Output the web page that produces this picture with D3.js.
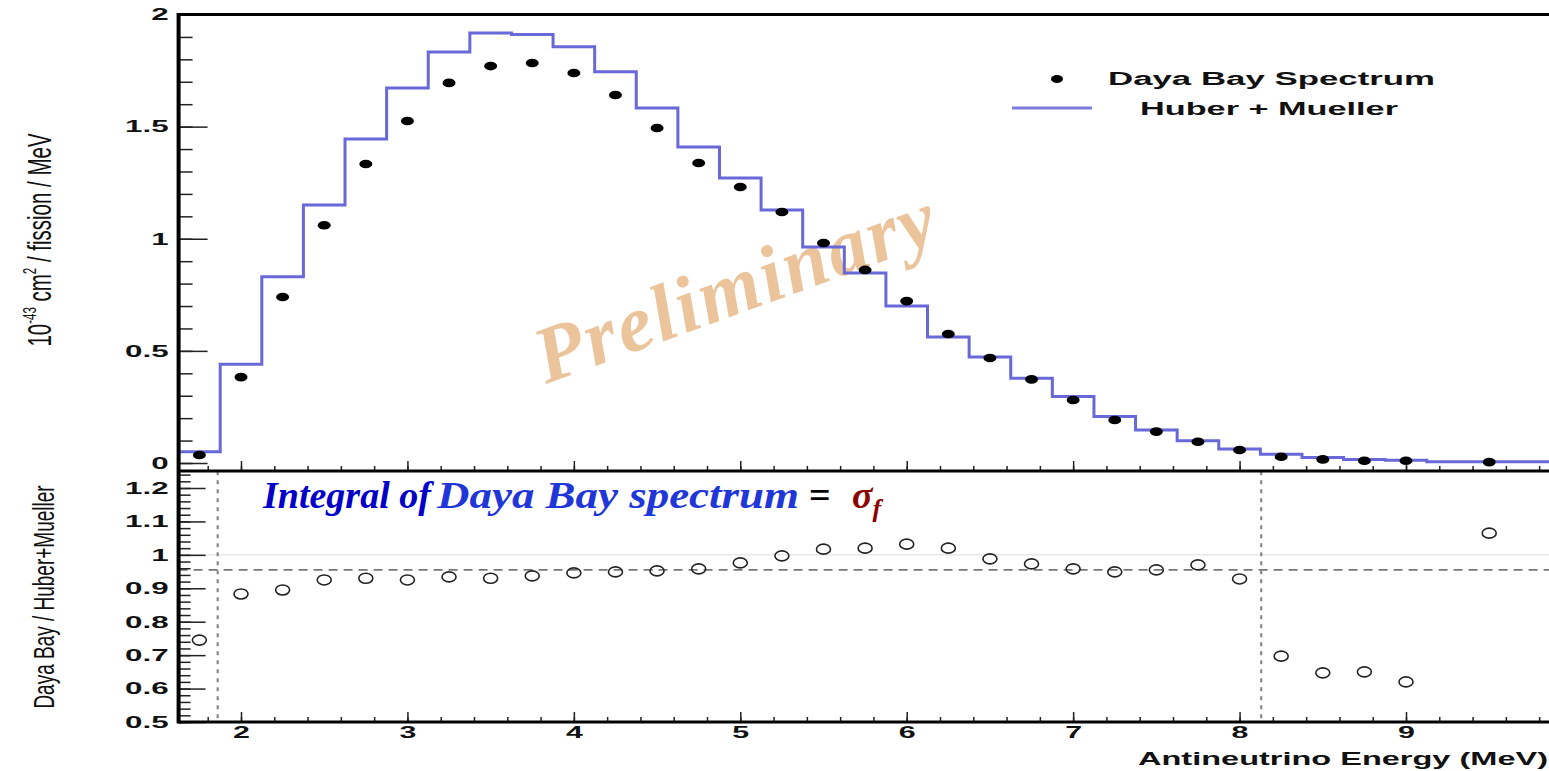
<!DOCTYPE html>
<html>
<head>
<meta charset="utf-8">
<script src="https://cdn.jsdelivr.net/npm/d3@7"></script>
<style>
  body { margin: 0; background: #fff; overflow: hidden; }
  svg { display: block; }
</style>
</head>
<body>
<script>
// bin centres (MeV)
const energies = [1.75, 2, 2.25, 2.5, 2.75, 3, 3.25, 3.5, 3.75, 4, 4.25, 4.5, 4.75, 5, 5.25, 5.5,
                  5.75, 6, 6.25, 6.5, 6.75, 7, 7.25, 7.5, 7.75, 8, 8.25, 8.5, 8.75, 9, 9.5];
// Daya Bay spectrum, 10^-43 cm^2 / fission / MeV
const spectrum = [0.036, 0.383, 0.74, 1.06, 1.333, 1.525, 1.695, 1.77, 1.784, 1.739, 1.641, 1.494, 1.338, 1.231, 1.119, 0.981,
                  0.861, 0.722, 0.575, 0.468, 0.373, 0.281, 0.192, 0.14, 0.095, 0.058, 0.028, 0.016, 0.01, 0.01, 0.004];
// Daya Bay / Huber+Mueller
const ratio = [0.745, 0.883, 0.895, 0.925, 0.93, 0.925, 0.934, 0.93, 0.937, 0.946, 0.949, 0.952, 0.958, 0.976, 0.997, 1.017,
               1.02, 1.032, 1.02, 0.988, 0.973, 0.958, 0.949, 0.955, 0.97, 0.928, 0.697, 0.647, 0.65, 0.62, 1.065];
// Huber + Mueller histogram (bin low edges + last high edge)
const hmEdges = [1.625, 1.875, 2.125, 2.375, 2.625, 2.875, 3.125, 3.375, 3.625, 3.875, 4.125, 4.375, 4.625, 4.875, 5.125, 5.375,
                 5.625, 5.875, 6.125, 6.375, 6.625, 6.875, 7.125, 7.375, 7.625, 7.875, 8.125, 8.375, 8.625, 8.875, 9.125, 10];
const hmValues = [0.05, 0.44, 0.83, 1.15, 1.445, 1.672, 1.833, 1.917, 1.911, 1.856, 1.745, 1.583, 1.409, 1.271, 1.128, 0.963,
                  0.847, 0.7, 0.562, 0.473, 0.378, 0.296, 0.207, 0.147, 0.099, 0.062, 0.039, 0.025, 0.016, 0.012, 0.006];

const spectrumTicks = [0, 0.5, 1, 1.5, 2];
const ratioTicks = [0.5, 0.6, 0.7, 0.8, 0.9, 1, 1.1, 1.2];
const energyTicks = [2, 3, 4, 5, 6, 7, 8, 9];
const ratioRef = 0.955;     // dashed line
const cutLines = [1.86, 8.13]; // dotted verticals

const width = 1549, height = 771;
const svg = d3.select("body").append("svg")
  .attr("width", width)
  .attr("height", height);

const xMin = 1.625;
const x = d3.scaleLinear().domain([2, 9]).range([241, 1406]);
const left = x(xMin);

const yTop = d3.scaleLinear().domain([0, 2]).range([463, 14.5]);
const topBottom = 471;
const yRatio = d3.scaleLinear().domain([0.5, 1.2]).range([722, 488]);
const ratioTop = yRatio(1.25);
const ratioBottom = yRatio(0.5);

const labelFont = "'Liberation Sans', Arial, Helvetica, sans-serif";
const serif = "'Liberation Serif', 'Times New Roman', serif";
const stretch = 1.9;
const fmt = d3.format("~g");

function styleTicks(g) {
  g.select(".domain").remove();
  g.selectAll(".tick line").attr("stroke", "#222").attr("stroke-width", 1.5);
}

// ---------- watermark (behind data) ----------
svg.append("text")
  .attr("transform", "translate(546,384) rotate(-20)")
  .attr("font-family", serif)
  .attr("font-style", "italic")
  .attr("font-weight", "bold")
  .attr("font-size", 80)
  .attr("letter-spacing", 2.5)
  .attr("fill", "#ecc49c")
  .text("Preliminary");

// ---------- top panel ----------
svg.append("g")
  .attr("transform", `translate(${left},0)`)
  .call(d3.axisLeft(yTop).tickValues(d3.range(0, 2.001, 0.1)).tickSizeInner(-14).tickSizeOuter(0).tickFormat(""))
  .call(styleTicks);
const yTopAxis = svg.append("g")
  .attr("transform", `translate(${left},0)`)
  .call(d3.axisLeft(yTop).tickValues(spectrumTicks).tickSizeInner(-29).tickSizeOuter(0).tickPadding(10).tickFormat(fmt))
  .call(styleTicks);

svg.append("g")
  .attr("transform", `translate(0,${topBottom})`)
  .call(d3.axisBottom(x).tickValues(d3.range(1.8, 9.9, 0.2)).tickSizeInner(-5).tickSizeOuter(0).tickFormat(""))
  .call(styleTicks);
svg.append("g")
  .attr("transform", `translate(0,${topBottom})`)
  .call(d3.axisBottom(x).tickValues(energyTicks).tickSizeInner(-10).tickSizeOuter(0).tickFormat(""))
  .call(styleTicks);

// Huber + Mueller histogram
const hmPoints = [[xMin, 0]]
  .concat(hmValues.map((v, i) => [hmEdges[i], v]))
  .concat([[hmEdges[hmEdges.length - 1], hmValues[hmValues.length - 1]]]);

const step = d3.line()
  .x(d => x(d[0]))
  .y(d => yTop(d[1]))
  .curve(d3.curveStepAfter);

svg.append("path")
  .datum(hmPoints)
  .attr("d", step)
  .attr("fill", "none")
  .attr("stroke", "#6868d8")
  .attr("stroke-width", 3);

// Daya Bay points
svg.selectAll(".spec")
  .data(energies)
  .enter()
  .append("ellipse")
  .attr("class", "spec")
  .attr("cx", d => x(d))
  .attr("cy", (d, i) => yTop(spectrum[i]))
  .attr("rx", 6.5)
  .attr("ry", 4.3)
  .attr("fill", "#000");

// legend
svg.append("ellipse").attr("cx", 1057).attr("cy", 79).attr("rx", 6).attr("ry", 4).attr("fill", "#000");
svg.append("text")
  .attr("x", 1108).attr("y", 85)
  .attr("font-family", labelFont).attr("font-weight", "bold").attr("font-size", 18)
  .attr("textLength", 327).attr("lengthAdjust", "spacingAndGlyphs")
  .attr("fill", "#111")
  .text("Daya Bay Spectrum");
svg.append("line")
  .attr("x1", 1012).attr("x2", 1092).attr("y1", 108).attr("y2", 108)
  .attr("stroke", "#7b7bdc").attr("stroke-width", 3);
svg.append("text")
  .attr("x", 1140).attr("y", 115)
  .attr("font-family", labelFont).attr("font-weight", "bold").attr("font-size", 18)
  .attr("textLength", 258).attr("lengthAdjust", "spacingAndGlyphs")
  .attr("fill", "#111")
  .text("Huber + Mueller");

// ---------- ratio panel ----------
svg.append("line")
  .attr("x1", left).attr("x2", width)
  .attr("y1", yRatio(1)).attr("y2", yRatio(1))
  .attr("stroke", "#e8e8e8").attr("stroke-width", 1.5);

svg.append("line")
  .attr("x1", left).attr("x2", width)
  .attr("y1", yRatio(ratioRef)).attr("y2", yRatio(ratioRef))
  .attr("stroke", "#777").attr("stroke-width", 1.6)
  .attr("stroke-dasharray", "9,6");

svg.selectAll(".cut")
  .data(cutLines)
  .enter()
  .append("line")
  .attr("class", "cut")
  .attr("x1", d => x(d)).attr("x2", d => x(d))
  .attr("y1", ratioTop).attr("y2", ratioBottom)
  .attr("stroke", "#888").attr("stroke-width", 2.2)
  .attr("stroke-dasharray", "4,5");

svg.append("g")
  .attr("transform", `translate(${left},0)`)
  .call(d3.axisLeft(yRatio).tickValues(d3.range(0.5, 1.2501, 0.02)).tickSizeInner(-12).tickSizeOuter(0).tickFormat(""))
  .call(styleTicks);
const yRatioAxis = svg.append("g")
  .attr("transform", `translate(${left},0)`)
  .call(d3.axisLeft(yRatio).tickValues(ratioTicks).tickSizeInner(-27).tickSizeOuter(0).tickPadding(10).tickFormat(fmt))
  .call(styleTicks);

svg.append("g")
  .attr("transform", `translate(0,${ratioBottom})`)
  .call(d3.axisBottom(x).tickValues(d3.range(1.8, 9.9, 0.2)).tickSizeInner(-5).tickSizeOuter(0).tickFormat(""))
  .call(styleTicks);
const xAxis = svg.append("g")
  .attr("transform", `translate(0,${ratioBottom})`)
  .call(d3.axisBottom(x).tickValues(energyTicks).tickSizeInner(-10).tickSizeOuter(0).tickPadding(5).tickFormat(fmt))
  .call(styleTicks);

svg.selectAll(".ratio")
  .data(energies)
  .enter()
  .append("ellipse")
  .attr("class", "ratio")
  .attr("cx", d => x(d))
  .attr("cy", (d, i) => yRatio(ratio[i]))
  .attr("rx", 7)
  .attr("ry", 5)
  .attr("fill", "none")
  .attr("stroke", "#222")
  .attr("stroke-width", 1.6);

// tick labels: bold, stretched wide like the reference
[yTopAxis, yRatioAxis].forEach(g => {
  g.selectAll("text")
    .attr("font-family", labelFont).attr("font-weight", "bold").attr("font-size", 16.5)
    .attr("fill", "#111")
    .attr("x", -10 / stretch)
    .attr("transform", `scale(${stretch},1)`);
});
xAxis.selectAll("text")
  .attr("font-family", labelFont).attr("font-weight", "bold").attr("font-size", 16)
  .attr("fill", "#111")
  .attr("transform", `scale(${stretch},1)`);

// frame lines
const frame = svg.append("g").attr("stroke", "#000").attr("fill", "none");
frame.append("line").attr("x1", left).attr("x2", width).attr("y1", yTop(2)).attr("y2", yTop(2)).attr("stroke-width", 3);
frame.append("line").attr("x1", left).attr("x2", width).attr("y1", topBottom).attr("y2", topBottom).attr("stroke-width", 3);
frame.append("line").attr("x1", left).attr("x2", width).attr("y1", ratioBottom).attr("y2", ratioBottom).attr("stroke-width", 3);
frame.append("line").attr("x1", left).attr("x2", left).attr("y1", yTop(2) - 1.5).attr("y2", ratioBottom + 1.5).attr("stroke-width", 4);

// ---------- titles ----------
const yTitle = svg.append("text")
  .attr("transform", "translate(51,240) rotate(-90) scale(1,1.65)")
  .attr("text-anchor", "middle")
  .attr("font-family", labelFont).attr("font-size", 20.5)
  .attr("fill", "#111");
yTitle.append("tspan").text("10");
yTitle.append("tspan").attr("font-size", 11.5).attr("dy", -9).text("-43");
yTitle.append("tspan").attr("dy", 9).text(" cm");
yTitle.append("tspan").attr("font-size", 11.5).attr("dy", -9).text("2");
yTitle.append("tspan").attr("dy", 9).text(" / fission / MeV");

svg.append("text")
  .attr("transform", "translate(54,597) rotate(-90) scale(1,1.6)")
  .attr("text-anchor", "middle")
  .attr("font-family", labelFont).attr("font-size", 19)
  .attr("fill", "#111")
  .text("Daya Bay / Huber+Mueller");

svg.append("text")
  .attr("x", 1138).attr("y", 765)
  .attr("font-family", labelFont).attr("font-weight", "bold").attr("font-size", 18)
  .attr("textLength", 410).attr("lengthAdjust", "spacingAndGlyphs")
  .attr("fill", "#111")
  .text("Antineutrino Energy (MeV)");

// ---------- annotation ----------
const noteStyle = t => t
  .attr("y", 508)
  .attr("font-family", serif)
  .attr("font-style", "italic")
  .attr("font-weight", "bold")
  .attr("font-size", 38);

svg.append("text").call(noteStyle)
  .attr("x", 263).attr("fill", "#0000c8")
  .text("Integral of");
svg.append("text").call(noteStyle)
  .attr("x", 437).attr("fill", "#1f37d8")
  .attr("textLength", 362).attr("lengthAdjust", "spacingAndGlyphs")
  .text("Daya Bay spectrum");
svg.append("text").call(noteStyle)
  .attr("x", 809).attr("fill", "#000").attr("font-style", "normal")
  .text("=");
const sigma = svg.append("text").call(noteStyle)
  .attr("x", 852).attr("fill", "#8b0000");
sigma.append("tspan").text("σ");
sigma.append("tspan").attr("font-size", 26).attr("dy", 9).text("f");
</script>
</body>
</html>
